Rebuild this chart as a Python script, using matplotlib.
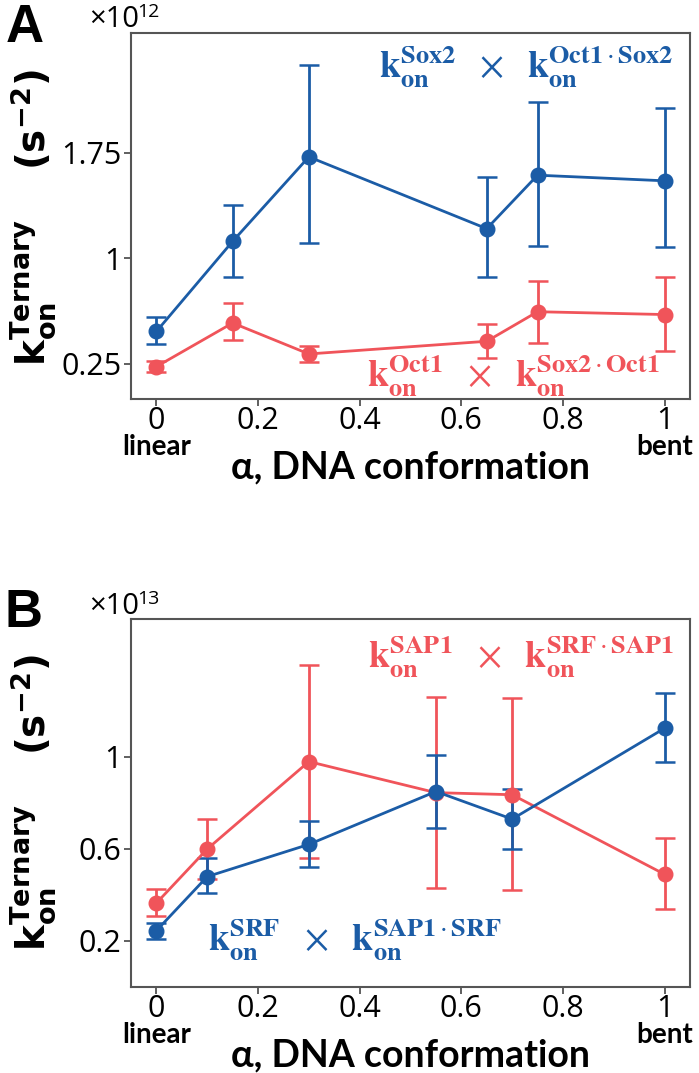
import matplotlib
matplotlib.use("Agg")
import matplotlib.pyplot as plt

plt.rcParams['mathtext.fontset'] = 'stix'

# panel A  (values in units of 1e12 s^-2)
alpha_a = [0, 0.15, 0.3, 0.65, 0.75, 1]
sox2 = [0.48, 1.12, 1.72, 1.21, 1.59, 1.55]
sox2_lo = [0.39, 0.87, 1.11, 0.87, 1.09, 1.08]
sox2_hi = [0.58, 1.38, 2.37, 1.58, 2.11, 2.07]
oct1 = [0.23, 0.54, 0.32, 0.41, 0.62, 0.60]
oct1_lo = [0.19, 0.42, 0.26, 0.29, 0.40, 0.34]
oct1_hi = [0.27, 0.68, 0.38, 0.53, 0.84, 0.87]

# panel B  (values in units of 1e13 s^-2)
alpha_b = [0, 0.1, 0.3, 0.55, 0.7, 1]
srf = [0.245, 0.48, 0.62, 0.85, 0.73, 1.125]
srf_lo = [0.21, 0.41, 0.52, 0.69, 0.60, 0.98]
srf_hi = [0.28, 0.56, 0.72, 1.01, 0.86, 1.28]
sap1 = [0.365, 0.60, 0.98, 0.845, 0.836, 0.49]
sap1_lo = [0.31, 0.47, 0.56, 0.43, 0.42, 0.34]
sap1_hi = [0.425, 0.73, 1.40, 1.26, 1.256, 0.65]

xticks = [0, 0.2, 0.4, 0.6, 0.8, 1]
xtick_labels = ['0', '0.2', '0.4', '0.6', '0.8', '1']
yticks_a = [0.25, 1, 1.75]
ytick_labels_a = ['0.25', '1', '1.75']
yticks_b = [0.2, 0.6, 1]
ytick_labels_b = ['0.2', '0.6', '1']

BLUE = '#1b5ca6'
RED = '#f0545a'

fig = plt.figure(figsize=(6.99, 10.73), dpi=100)
W, H = 699, 1073


def px_axes(left, top, right, bottom):
    return fig.add_axes([left / W, 1 - bottom / H, (right - left) / W, (bottom - top) / H])


def series(ax, x, y, lo, hi, color):
    err = [[v - l for v, l in zip(y, lo)], [h - v for v, h in zip(y, hi)]]
    ax.errorbar(x, y, yerr=err, color=color, marker='o', markersize=10.5, lw=2,
                elinewidth=2, capsize=7, capthick=1.8)


def label(a, b):
    # k_on^a  x  k_on^(b.a)
    return (r'$\mathbf{k}_{\mathbf{on}}^{\mathbf{%s}}\ \ \times\ \ '
            r'\mathbf{k}_{\mathbf{on}}^{\mathbf{%s}\cdot\mathbf{%s}}$' % (a, b, a))


def style(ax, yticks, ylabels, ylim):
    ax.set_xlim(-0.05, 1.05)
    ax.set_ylim(*ylim)
    ax.set_xticks(xticks)
    ax.set_xticklabels(xtick_labels, family='Open Sans', fontsize=22)
    ax.set_yticks(yticks)
    ax.set_yticklabels(ylabels, family='Open Sans', fontsize=22)
    ax.tick_params(length=5, width=1.2, color='#444444', pad=2)
    ax.tick_params(axis='x', pad=0)
    for s in ax.spines.values():
        s.set_color('#555555')
        s.set_linewidth(1.5)
    for x, t in [(0, 'linear'), (1, 'bent')]:
        ax.annotate(t, xy=(x, 0), xycoords=('data', 'axes fraction'),
                    xytext=(0, -48), textcoords='offset pixels',
                    ha='center', va='center', family='Lato', fontweight='bold', fontsize=20)
    ax.annotate(r'α, DNA conformation', xy=(0.5, 0), xycoords='axes fraction',
                xytext=(0, -68), textcoords='offset pixels',
                ha='center', va='center', family='Lato', fontweight='bold', fontsize=27)


# ---- panel A
ax1 = px_axes(131, 33, 690, 399)
series(ax1, alpha_a, oct1, oct1_lo, oct1_hi, RED)
series(ax1, alpha_a, sox2, sox2_lo, sox2_hi, BLUE)
style(ax1, yticks_a, ytick_labels_a, (0, 2.6))
ax1.text(0.707, 0.907, label('Sox2', 'Oct1'),
         transform=ax1.transAxes, ha='center', va='center', color=BLUE, fontsize=27)
ax1.text(0.685, 0.062, label('Oct1', 'Sox2'),
         transform=ax1.transAxes, ha='center', va='center', color=RED, fontsize=27)

# ---- panel B
ax2 = px_axes(131, 619, 690, 987)
series(ax2, alpha_b, sap1, sap1_lo, sap1_hi, RED)
series(ax2, alpha_b, srf, srf_lo, srf_hi, BLUE)
style(ax2, yticks_b, ytick_labels_b, (0, 1.6))
ax2.text(0.698, 0.897, label('SAP1', 'SRF'),
         transform=ax2.transAxes, ha='center', va='center', color=RED, fontsize=27)
ax2.text(0.40, 0.128, label('SRF', 'SAP1'),
         transform=ax2.transAxes, ha='center', va='center', color=BLUE, fontsize=27)

# y labels, offsets, panel letters
ylab = r'$\mathbf{k_{on}^{Ternary}}$    $\mathbf{(s^{-2})}$'
for yc in [218, 803]:
    fig.text(33 / W, 1 - yc / H, ylab, rotation=90, ha='center', va='center',
             fontsize=28, math_fontfamily='dejavusans')
for base, exp in [(27, '12'), (614, '13')]:
    fig.text(89 / W, 1 - base / H, '×10', ha='left', va='baseline',
             family='Open Sans', fontsize=21)
    fig.text(137 / W, 1 - (base - 10) / H, exp, ha='left', va='baseline',
             family='Open Sans', fontsize=14)
fig.text(25 / W, 1 - 42 / H, 'A', ha='center', va='baseline', family='Liberation Sans',
         fontweight='bold', fontsize=38)
fig.text(23 / W, 1 - 627 / H, 'B', ha='center', va='baseline', family='Liberation Sans',
         fontweight='bold', fontsize=38)

fig.savefig('out.png', dpi=100)
